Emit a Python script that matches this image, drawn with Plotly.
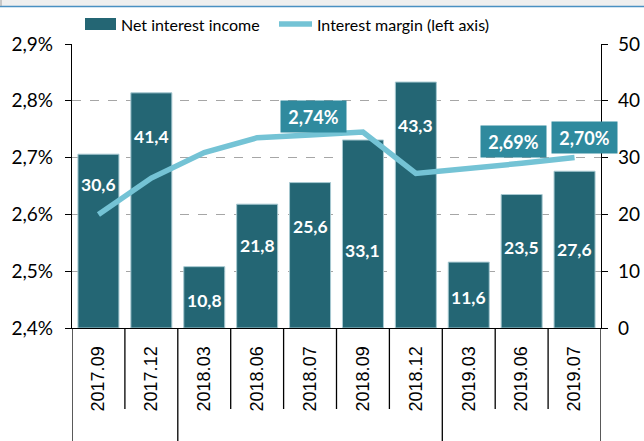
import plotly.graph_objects as go

categories = ["2017.09", "2017.12", "2018.03", "2018.06", "2018.07",
              "2018.09", "2018.12", "2019.03", "2019.06", "2019.07"]
net_interest_income = [30.6, 41.4, 10.8, 21.8, 25.6, 33.1, 43.3, 11.6, 23.5, 27.6]
interest_margin = [2.600, 2.664, 2.709, 2.735, 2.740, 2.745, 2.672, 2.680, 2.690, 2.700]
bar_labels = ["30,6", "41,4", "10,8", "21,8", "25,6", "33,1", "43,3", "11,6", "23,5", "27,6"]
# vertical placement of the value labels inside the bars (in bar units)
bar_label_y = [25.2, 33.8, 4.9, 14.6, 17.8, 13.7, 35.6, 5.3, 14.1, 13.9]
margin_labels = {"2018.09": "2,74%", "2019.06": "2,69%", "2019.07": "2,70%"}
margin_label_shift = {"2018.09": (-49, 16), "2019.06": (-8, 22), "2019.07": (10, 20)}
pct_ticks = [2.4, 2.5, 2.6, 2.7, 2.8, 2.9]
pct_tick_text = ["2,4%", "2,5%", "2,6%", "2,7%", "2,8%", "2,9%"]
group_boundaries = [-0.5, 1.5, 6.5, 9.5]

BAR = "#246674"
LINE = "#74c3d5"
BOX = "#2f8a9e"
FONT = "Lato"

# plot area in pixels
L, R, T, B = 72, 601, 44, 328
W, H = R - L, B - T
def px(x):
    return (x - L) / W
def py(y):
    return (B - y) / H

fig = go.Figure()
fig.add_trace(go.Bar(
    x=categories, y=net_interest_income, yaxis="y",
    marker=dict(color=BAR, line=dict(color="#a7c9d1", width=1)),
    name="Net interest income", showlegend=False, hoverinfo="skip"))
fig.add_trace(go.Scatter(
    x=categories, y=interest_margin, yaxis="y2", mode="lines",
    line=dict(color=LINE, width=5.5),
    name="Interest margin (left axis)", showlegend=False, hoverinfo="skip"))

ann = []
for i, (lab, yv) in enumerate(zip(bar_labels, bar_label_y)):
    ann.append(dict(x=i, y=yv, xref="x", yref="y", text=lab, showarrow=False,
                    font=dict(family=FONT, size=17.5, color="white", weight="bold")))
for i, (c, m) in enumerate(zip(categories, interest_margin)):
    if c in margin_labels:
        dx, dy = margin_label_shift[c]
        ann.append(dict(x=i, y=m, xref="x", yref="y2", text=margin_labels[c],
                        showarrow=False, xshift=dx, yshift=dy,
                        bgcolor=BOX, borderpad=5, width=55, height=21,
                        font=dict(family=FONT, size=18, color="white", weight="bold")))

# manual legend
ann.append(dict(x=px(119), y=py(24), xref="paper", yref="paper", text="Net interest income",
                showarrow=False, xanchor="left", yanchor="middle",
                font=dict(family=FONT, size=16, color="black")))
ann.append(dict(x=px(315), y=py(24), xref="paper", yref="paper", text="Interest margin (left axis)",
                showarrow=False, xanchor="left", yanchor="middle",
                font=dict(family=FONT, size=16, color="black")))

shapes = [
    dict(type="rect", xref="paper", yref="paper", x0=px(85), x1=px(116), y0=py(30), y1=py(18),
         fillcolor=BAR, line=dict(width=0)),
    dict(type="line", xref="paper", yref="paper", x0=px(279), x1=px(312), y0=py(24), y1=py(24),
         line=dict(color=LINE, width=5.5)),
    # top band
    dict(type="rect", xref="paper", yref="paper", x0=px(0), x1=px(644), y0=py(6), y1=py(0),
         fillcolor="#efefef", line=dict(width=0), layer="below"),
    dict(type="line", xref="paper", yref="paper", x0=px(0), x1=px(644), y0=py(6.5), y1=py(6.5),
         line=dict(color="#4a90c2", width=1.5)),
    dict(type="line", xref="paper", yref="paper", x0=px(1), x1=px(1), y0=py(0), y1=py(6),
         line=dict(color="#a0a0a0", width=1)),
]
# category separators below the axis
for i in range(len(categories) + 1):
    xb = i - 0.5
    long = xb in group_boundaries
    shapes.append(dict(type="line", xref="x", yref="paper", x0=xb, x1=xb,
                       y0=py(B), y1=py(441 if long else 409),
                       line=dict(color="black", width=1.3)))

fig.update_layout(
    width=644, height=441,
    margin=dict(l=L, r=644 - R, t=T, b=441 - B),
    paper_bgcolor="white", plot_bgcolor="white",
    bargap=0.225,
    showlegend=False,
    font=dict(family=FONT, size=18, color="black"),
    xaxis=dict(type="category", tickangle=-90, showline=True, linecolor="black", linewidth=1.3,
               ticks="", showgrid=False, range=[-0.5, len(categories) - 0.5],
               tickfont=dict(family="Liberation Sans", size=18, color="black"),
               ticklabelstandoff=10, automargin=False),
    yaxis=dict(side="right", range=[0, 50], dtick=10, showline=True, linecolor="black",
               linewidth=1.3, ticks="outside", ticklen=6, tickcolor="black",
               showgrid=True, gridcolor="#a6a6a6", griddash="dash", gridwidth=1,
               zeroline=False, tickfont=dict(family=FONT, size=19), ticklabelstandoff=6,
               automargin=False),
    yaxis2=dict(side="left", overlaying="y", range=[2.4, 2.9], tickvals=pct_ticks,
                ticktext=pct_tick_text, showline=True, linecolor="black", linewidth=1.3,
                ticks="outside", ticklen=6, tickcolor="black", showgrid=False, zeroline=False,
                tickfont=dict(family=FONT, size=19), ticklabelstandoff=8, automargin=False),
    annotations=ann, shapes=shapes,
)

fig.write_html("out.html", config={"displayModeBar": False},
               post_script="document.body.style.margin='0';document.body.style.overflow='hidden';")
